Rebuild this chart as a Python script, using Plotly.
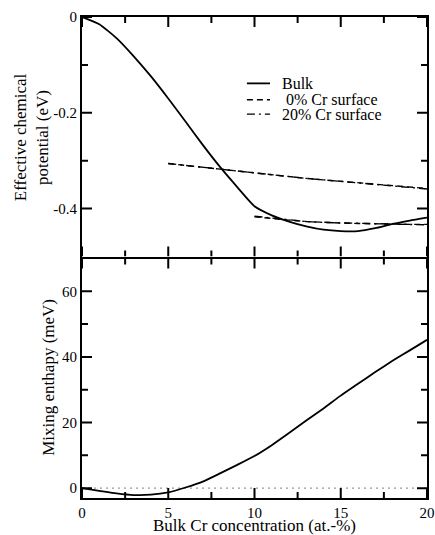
import plotly.graph_objects as go

# ---- data ----
conc = list(range(0, 21))
bulk_mu = [0.0, -0.015, -0.044, -0.082, -0.124, -0.170, -0.218, -0.267, -0.313,
           -0.355, -0.395, -0.414, -0.427, -0.437, -0.444, -0.447, -0.447, -0.441,
           -0.432, -0.425, -0.419]

surf_hi_x = list(range(5, 21))
surf0_hi = [-0.306, -0.310, -0.314, -0.318, -0.322, -0.326, -0.330, -0.334,
            -0.337, -0.340, -0.343, -0.346, -0.349, -0.352, -0.355, -0.358]
surf20_hi = [-0.306, -0.310, -0.314, -0.318, -0.322, -0.326, -0.330, -0.334,
             -0.337, -0.340, -0.343, -0.346, -0.349, -0.352, -0.355, -0.359]

surf_lo_x = list(range(10, 21))
surf0_lo = [-0.417, -0.421, -0.424, -0.427, -0.429, -0.430, -0.431, -0.432,
            -0.432, -0.433, -0.433]
surf20_lo = [-0.416, -0.420, -0.424, -0.427, -0.429, -0.430, -0.431, -0.431,
             -0.432, -0.433, -0.434]

mix_h = [0.0, -0.8, -1.6, -2.1, -2.0, -1.3, 0.2, 2.0, 4.5, 7.1, 9.8, 13.1, 16.8,
         20.6, 24.3, 28.2, 31.8, 35.4, 38.8, 42.0, 45.2]

# tick positions
x_major = [0, 5, 10, 15, 20]
x_minor = [2.5, 7.5, 12.5, 17.5]
mu_major = [0, -0.2, -0.4]
mu_ticktext = ["0", "-0.2", "-0.4"]
mu_minor = [-0.1, -0.3]
h_major = [0, 20, 40, 60]
h_minor = [10, 30, 50]

legend_names = ["Bulk", "0% Cr surface", "20% Cr surface"]

FONT = "Liberation Serif"
DASH0 = "6px,4px"
DASH20 = "8px,4px,2px,4px"
MAJ, MIN = 10, 6  # tick lengths in pixels

W, HT = 435, 535
ML, MR, MT, MB = 82, 8, 17, 37
PW, PH = W - ML - MR, HT - MT - MB
X_RANGE = [0, 20]
H_RANGE = [-3, 70]
MU_RANGE = [-0.5, 0]
dom_bot = [0, 0.5 - 1 / PH]
dom_top = [0.5 + 1 / PH, 1]

fig = go.Figure()

fig.add_trace(go.Scatter(x=conc, y=bulk_mu, mode="lines", name=legend_names[0],
                         line=dict(color="black", width=1.8, shape="spline",
                                   smoothing=0.5),
                         xaxis="x2", yaxis="y2"))
fig.add_trace(go.Scatter(x=surf_hi_x + [None] + surf_lo_x,
                         y=surf0_hi + [None] + surf0_lo,
                         mode="lines", name=legend_names[1], connectgaps=False,
                         line=dict(color="black", width=1.4, dash=DASH0),
                         xaxis="x2", yaxis="y2"))
fig.add_trace(go.Scatter(x=surf_hi_x + [None] + surf_lo_x,
                         y=surf20_hi + [None] + surf20_lo,
                         mode="lines", name=legend_names[2], connectgaps=False,
                         line=dict(color="black", width=1.4, dash=DASH20),
                         xaxis="x2", yaxis="y2"))

fig.add_trace(go.Scatter(x=X_RANGE, y=[0, 0], mode="lines",
                         line=dict(color="#999999", width=1.2, dash="2px,4px"),
                         xaxis="x", yaxis="y"))
fig.add_trace(go.Scatter(x=conc, y=mix_h, mode="lines",
                         line=dict(color="black", width=1.8, shape="spline",
                                   smoothing=0.5),
                         xaxis="x", yaxis="y"))

# tick marks on all four sides of each panel, drawn as one line trace per panel
x_per_px = (X_RANGE[1] - X_RANGE[0]) / PW
panels = [
    ("x", "y", H_RANGE, dom_bot, h_major, h_minor),
    ("x2", "y2", MU_RANGE, dom_top, mu_major, mu_minor),
]
for xax, yax, yr, dom, ymaj, ymin in panels:
    y_per_px = (yr[1] - yr[0]) / ((dom[1] - dom[0]) * PH)
    tx, ty = [], []
    for ticks_list, ln in ((x_major, MAJ), (x_minor, MIN)):
        for v in ticks_list:
            for base, sgn in ((yr[0], 1), (yr[1], -1)):
                tx += [v, v, None]
                ty += [base, base + sgn * ln * y_per_px, None]
    for ticks_list, ln in ((ymaj, MAJ), (ymin, MIN)):
        for v in ticks_list:
            for base, sgn in ((X_RANGE[0], 1), (X_RANGE[1], -1)):
                tx += [base, base + sgn * ln * x_per_px, None]
                ty += [v, v, None]
    fig.add_trace(go.Scatter(x=tx, y=ty, mode="lines", connectgaps=False,
                             line=dict(color="black", width=2),
                             hoverinfo="skip", xaxis=xax, yaxis=yax))

tickfont = dict(family=FONT, size=15, color="black")


def axis(**kw):
    d = dict(showgrid=False, zeroline=False, showline=True, linecolor="black",
             linewidth=2, mirror=True, ticks="", tickfont=tickfont)
    d.update(kw)
    return d


fig.update_layout(
    template="none",
    width=W, height=HT,
    margin=dict(l=ML, r=MR, t=MT, b=MB),
    paper_bgcolor="white", plot_bgcolor="white",
    font=dict(family=FONT, color="black"),
    showlegend=False,
    xaxis=axis(domain=[0, 1], range=X_RANGE, anchor="y",
               tickmode="array", tickvals=x_major),
    yaxis=axis(domain=dom_bot, range=H_RANGE, anchor="x",
               tickmode="array", tickvals=h_major),
    xaxis2=axis(domain=[0, 1], range=X_RANGE, anchor="y2",
                tickmode="array", tickvals=x_major, showticklabels=False),
    yaxis2=axis(domain=dom_top, range=MU_RANGE, anchor="x2",
                tickmode="array", tickvals=mu_major, ticktext=mu_ticktext),
)

ann = [
    dict(text="Effective chemical<br>potential (eV)", textangle=-90,
         xref="paper", yref="paper", x=0, y=0.75, xshift=-51,
         xanchor="center", yanchor="middle", showarrow=False,
         font=dict(family=FONT, size=17, color="black")),
    dict(text="Mixing enthapy (meV)", textangle=-90,
         xref="paper", yref="paper", x=0, y=0.25, xshift=-33,
         xanchor="center", yanchor="middle", showarrow=False,
         font=dict(family=FONT, size=17, color="black")),
    dict(text="Bulk Cr concentration (at.-%)",
         xref="paper", yref="paper", x=0.5, y=0, yshift=-27,
         xanchor="center", yanchor="middle", showarrow=False,
         font=dict(family=FONT, size=17, color="black")),
]

shapes = []
leg_x0, leg_x1, leg_tx = 0.478, 0.545, 0.574
leg_rows = [0.862, 0.828, 0.798]
leg_dash = ["solid", DASH0, DASH20]
leg_shift = [0, 4, 0]
for name, yy, dsh, sh in zip(legend_names, leg_rows, leg_dash, leg_shift):
    shapes.append(dict(type="line", xref="paper", yref="paper",
                       x0=leg_x0, x1=leg_x1, y0=yy, y1=yy,
                       line=dict(color="black", width=1.8 if dsh == "solid" else 1.4,
                                 dash=dsh)))
    ann.append(dict(text=name, xref="paper", yref="paper", x=leg_tx, y=yy,
                    xshift=sh, xanchor="left", yanchor="middle", showarrow=False,
                    font=dict(family=FONT, size=16, color="black")))

fig.update_layout(annotations=ann, shapes=shapes)

fig.write_html("out.html", config={"displayModeBar": False},
               post_script="document.body.style.margin='0';")
